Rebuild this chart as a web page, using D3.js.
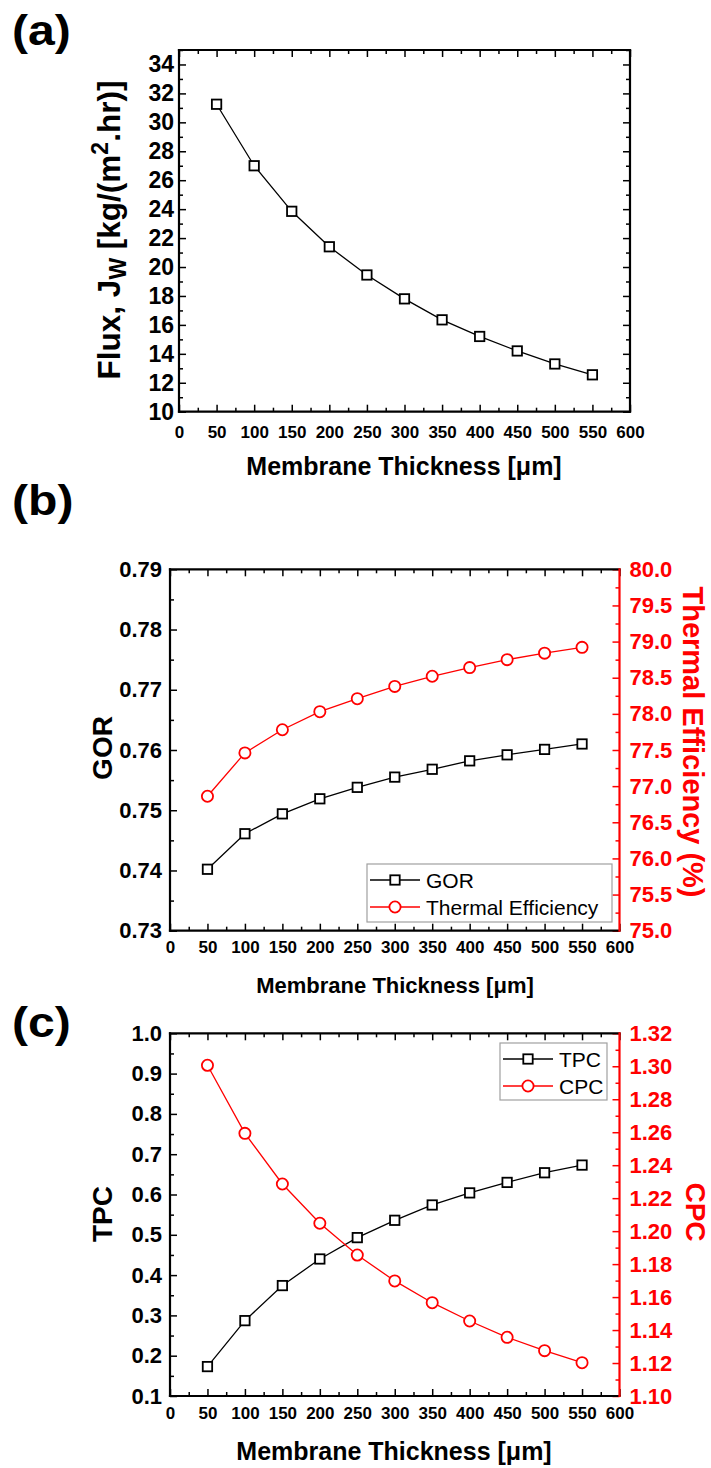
<!DOCTYPE html>
<html>
<head>
<meta charset="utf-8">
<script src="https://cdn.jsdelivr.net/npm/d3@7"></script>
<style>
  body { margin: 0; background: #fff; }
  svg { display: block; }
</style>
</head>
<body>
<script>
// values
const thickness = [50, 100, 150, 200, 250, 300, 350, 400, 450, 500, 550];
const flux = [31.25, 27.0, 23.85, 21.4, 19.45, 17.8, 16.35, 15.2, 14.2, 13.3, 12.55];
const gor = [0.7402, 0.7461, 0.7494, 0.7519, 0.7538, 0.7555, 0.7568, 0.7582, 0.7592, 0.7601, 0.7610];
const thermalEff = [76.86, 77.46, 77.78, 78.03, 78.21, 78.38, 78.52, 78.64, 78.75, 78.84, 78.92];
const tpc = [0.173, 0.287, 0.374, 0.440, 0.493, 0.536, 0.574, 0.604, 0.630, 0.654, 0.673];
const cpc = [1.3006, 1.2593, 1.2286, 1.2048, 1.1855, 1.1698, 1.1566, 1.1455, 1.1356, 1.1275, 1.1202];

// tick labels
const xTicks = [0, 50, 100, 150, 200, 250, 300, 350, 400, 450, 500, 550, 600];
const fluxTicks = [10, 12, 14, 16, 18, 20, 22, 24, 26, 28, 30, 32, 34];
const gorTicks = [0.73, 0.74, 0.75, 0.76, 0.77, 0.78, 0.79];
const effTicks = [75.0, 75.5, 76.0, 76.5, 77.0, 77.5, 78.0, 78.5, 79.0, 79.5, 80.0];
const tpcTicks = [0.1, 0.2, 0.3, 0.4, 0.5, 0.6, 0.7, 0.8, 0.9, 1.0];
const cpcTicks = [1.10, 1.12, 1.14, 1.16, 1.18, 1.20, 1.22, 1.24, 1.26, 1.28, 1.30, 1.32];

const FONT = '"Liberation Sans", Arial, Helvetica, sans-serif';
const RED = '#ff0000';

const svg = d3.select('body').append('svg')
    .attr('width', 711)
    .attr('height', 1468);

// minor ticks halfway between majors
const halves = t => t.slice(1).map((v, i) => (v + t[i]) / 2);

function tickGroup(gen, transform, color, size) {
    const g = svg.append('g').attr('transform', transform).call(gen);
    g.select('.domain').remove();
    g.attr('font-family', FONT).attr('font-size', size).attr('font-weight', 'bold');
    g.selectAll('line').attr('stroke', color).attr('stroke-width', 1.5);
    g.selectAll('text').attr('fill', color);
    return g;
}

function drawAxes(x, y, o) {
    const [x0, x1] = x.range();
    const [y0, y1] = y.range();
    const rc = o.right ? o.rightColor : '#000';

    // x axis, bottom + mirrored top
    tickGroup(d3.axisBottom(x).tickValues(xTicks).tickSize(-7).tickPadding(o.xPad).tickFormat(d3.format('d')),
        `translate(0,${y0})`, '#000', o.xSize);
    tickGroup(d3.axisBottom(x).tickValues(halves(xTicks)).tickSize(-4).tickFormat(''),
        `translate(0,${y0})`, '#000', 10);
    tickGroup(d3.axisTop(x).tickValues(xTicks).tickSize(-7).tickFormat(''),
        `translate(0,${y1})`, '#000', 10);
    tickGroup(d3.axisTop(x).tickValues(halves(xTicks)).tickSize(-4).tickFormat(''),
        `translate(0,${y1})`, '#000', 10);

    // left y axis
    tickGroup(d3.axisLeft(y).tickValues(o.yTicks).tickSize(-7).tickPadding(o.yPad).tickFormat(d3.format(o.yFmt)),
        `translate(${x0},0)`, '#000', o.ySize);
    tickGroup(d3.axisLeft(y).tickValues(o.yMinor).tickSize(-4).tickFormat(''),
        `translate(${x0},0)`, '#000', 10);

    // right y axis (mirror, or second scale)
    if (o.right) {
        tickGroup(d3.axisRight(o.right).tickValues(o.rTicks).tickSize(-7).tickPadding(o.rPad).tickFormat(d3.format(o.rFmt)),
            `translate(${x1},0)`, rc, o.ySize);
        tickGroup(d3.axisRight(o.right).tickValues(o.rMinor).tickSize(-4).tickFormat(''),
            `translate(${x1},0)`, rc, 10);
    } else {
        tickGroup(d3.axisRight(y).tickValues(o.yTicks).tickSize(-7).tickFormat(''),
            `translate(${x1},0)`, '#000', 10);
        tickGroup(d3.axisRight(y).tickValues(o.yMinor).tickSize(-4).tickFormat(''),
            `translate(${x1},0)`, '#000', 10);
    }

    // frame
    const fr = svg.append('g').attr('fill', 'none').attr('stroke-width', 2.2).attr('stroke-linecap', 'square');
    fr.append('line').attr('x1', x0).attr('x2', x1).attr('y1', y0).attr('y2', y0).attr('stroke', '#000');
    fr.append('line').attr('x1', x0).attr('x2', x1).attr('y1', y1).attr('y2', y1).attr('stroke', '#000');
    fr.append('line').attr('x1', x0).attr('x2', x0).attr('y1', y0).attr('y2', y1).attr('stroke', '#000');
    fr.append('line').attr('x1', x1).attr('x2', x1).attr('y1', y0).attr('y2', y1).attr('stroke', rc);
}

function drawSeries(x, y, values, color, shape) {
    const pts = thickness.map((t, i) => [x(t), y(values[i])]);
    svg.append('path')
        .attr('d', d3.line()(pts))
        .attr('fill', 'none')
        .attr('stroke', color)
        .attr('stroke-width', 1.3);
    drawMarkers(pts, color, shape);
}

function drawMarkers(pts, color, shape) {
    const g = svg.append('g').attr('fill', '#fff').attr('stroke', color).attr('stroke-width', 1.8);
    if (shape === 'square') {
        g.selectAll('rect').data(pts).join('rect')
            .attr('x', d => d[0] - 4.7).attr('y', d => d[1] - 4.7)
            .attr('width', 9.4).attr('height', 9.4);
    } else {
        g.selectAll('circle').data(pts).join('circle')
            .attr('cx', d => d[0]).attr('cy', d => d[1]).attr('r', 5.6);
    }
}

function text(x, y, str, size, opts = {}) {
    return svg.append('text')
        .attr('transform', `translate(${x},${y})${opts.rotate ? ` rotate(${opts.rotate})` : ''}${opts.stretch ? ` scale(${opts.stretch},1)` : ''}`)
        .attr('text-anchor', opts.anchor || 'middle')
        .attr('font-family', FONT)
        .attr('font-size', size)
        .attr('font-weight', opts.weight || 'bold')
        .attr('fill', opts.color || '#000')
        .text(str);
}

function legend(x, y, w, h, rows) {
    svg.append('rect').attr('x', x).attr('y', y).attr('width', w).attr('height', h)
        .attr('fill', '#fff').attr('stroke', '#a0a0a0').attr('stroke-width', 1.2);
    rows.forEach((r, i) => {
        const cy = y + 16 + i * 27;
        svg.append('line').attr('x1', x + 3).attr('x2', x + 53).attr('y1', cy).attr('y2', cy)
            .attr('stroke', r.color).attr('stroke-width', 1.3);
        drawMarkers([[x + 28, cy]], r.color, r.shape);
        text(x + 59, cy, r.label, 21, {anchor: 'start', weight: 'normal'}).attr('dominant-baseline', 'central');
    });
}

// ---- (a) flux ----
{
    const x = d3.scaleLinear().domain([0, 600]).range([179, 630]);
    const y = d3.scaleLinear().domain([10, 35]).range([411.7, 50]);
    drawAxes(x, y, {yTicks: fluxTicks, yMinor: halves(fluxTicks).concat([35]), yFmt: 'd', ySize: 23, yPad: 5, xSize: 17, xPad: 14});
    drawSeries(x, y, flux, '#000', 'square');
    text(12, 45, '(a)', 43, {anchor: 'start', stretch: 1.12});
    text(404, 475, 'Membrane Thickness [\u03bcm]', 25);
    const t = text(120, 230, '', 31.5, {rotate: -90});
    t.append('tspan').text('Flux, J');
    t.append('tspan').attr('font-size', 23).attr('dy', 6).text('W');
    t.append('tspan').attr('dy', -6).text(' [kg/(m');
    t.append('tspan').attr('font-size', 23).attr('dy', -12).text('2');
    t.append('tspan').attr('dy', 12).text('.hr)]');
}

// ---- (b) GOR / thermal efficiency ----
{
    const x = d3.scaleLinear().domain([0, 600]).range([170, 619.5]);
    const y = d3.scaleLinear().domain([0.73, 0.79]).range([930.7, 569.3]);
    const yr = d3.scaleLinear().domain([75, 80]).range([930.7, 569.3]);
    drawAxes(x, y, {
        yTicks: gorTicks, yMinor: halves(gorTicks), yFmt: '.2f', ySize: 22, yPad: 8, xSize: 17, xPad: 10.5,
        right: yr, rightColor: RED, rTicks: effTicks, rMinor: halves(effTicks), rFmt: '.1f', rPad: 10
    });
    drawSeries(x, y, gor, '#000', 'square');
    drawSeries(x, yr, thermalEff, RED, 'circle');
    legend(367, 864, 245, 58, [
        {label: 'GOR', color: '#000', shape: 'square'},
        {label: 'Thermal Efficiency', color: RED, shape: 'circle'}
    ]);
    text(12, 515, '(b)', 43, {anchor: 'start', stretch: 1.12});
    text(395, 993, 'Membrane Thickness [\u03bcm]', 22);
    text(112, 748, 'GOR', 28, {rotate: -90});
    text(683, 742, 'Thermal Efficiency (%)', 29, {rotate: 90, color: RED});
}

// ---- (c) TPC / CPC ----
{
    const x = d3.scaleLinear().domain([0, 600]).range([170, 619.5]);
    const y = d3.scaleLinear().domain([0.1, 1.0]).range([1396, 1033.3]);
    const yr = d3.scaleLinear().domain([1.10, 1.32]).range([1396, 1033.3]);
    drawAxes(x, y, {
        yTicks: tpcTicks, yMinor: halves(tpcTicks), yFmt: '.1f', ySize: 22, yPad: 8, xSize: 17, xPad: 11,
        right: yr, rightColor: RED, rTicks: cpcTicks, rMinor: halves(cpcTicks), rFmt: '.2f', rPad: 10
    });
    drawSeries(x, y, tpc, '#000', 'square');
    drawSeries(x, yr, cpc, RED, 'circle');
    legend(500, 1043, 107, 57, [
        {label: 'TPC', color: '#000', shape: 'square'},
        {label: 'CPC', color: RED, shape: 'circle'}
    ]);
    text(12, 1037, '(c)', 43, {anchor: 'start', stretch: 1.12});
    text(394, 1460, 'Membrane Thickness [\u03bcm]', 25);
    text(112, 1214, 'TPC', 28, {rotate: -90});
    text(686, 1212, 'CPC', 28, {rotate: 90, color: RED});
}
</script>
</body>
</html>
